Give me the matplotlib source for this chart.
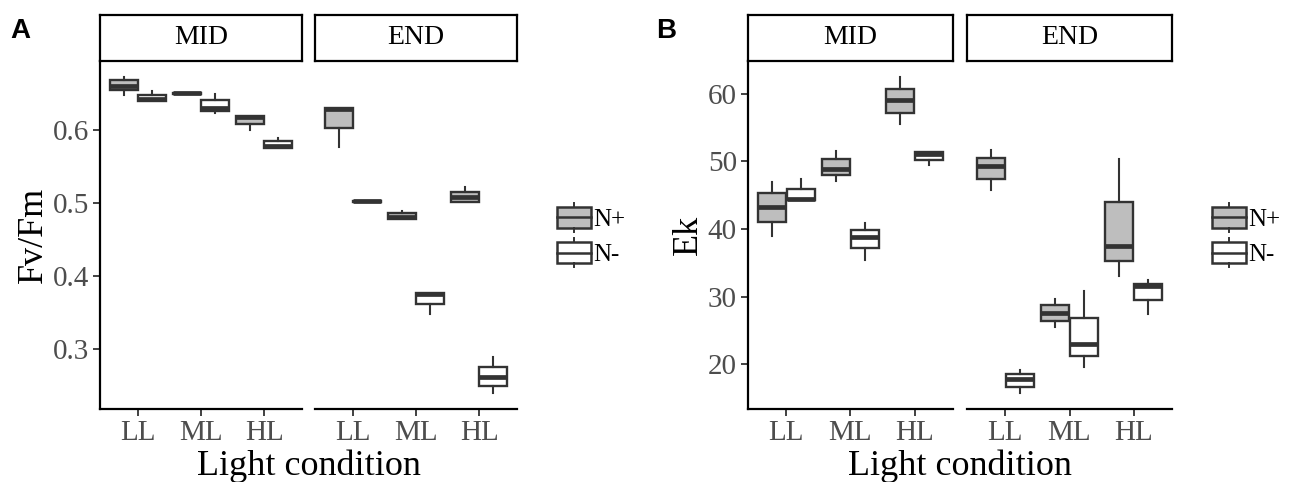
import matplotlib
matplotlib.use("Agg")
import matplotlib.pyplot as plt
from matplotlib.legend_handler import HandlerBase
from matplotlib.patches import Rectangle, Patch
from matplotlib.lines import Line2D

plt.rcParams['font.family'] = ['Liberation Serif', 'DejaVu Serif']

stages = ["MID", "END"]
light = ["LL", "ML", "HL"]
nitrogen = ["N+", "N-"]

# five-number summaries [whislo, q1, med, q3, whishi], order: LL N+, LL N-, ML N+, ML N-, HL N+, HL N-
fvfm_mid = [[0.648, 0.655, 0.6596, 0.6688, 0.6725],
            [0.639, 0.639, 0.6427, 0.647, 0.6536],
            [0.649, 0.649, 0.650, 0.651, 0.651],
            [0.6234, 0.6252, 0.630, 0.6413, 0.6495],
            [0.599, 0.6083, 0.618, 0.6193, 0.6193],
            [0.5748, 0.5748, 0.5784, 0.584, 0.5886]]
fvfm_end = [[0.577, 0.6023, 0.628, 0.6298, 0.6298],
            [0.501, 0.501, 0.502, 0.503, 0.503],
            [0.4776, 0.4776, 0.481, 0.4854, 0.4886],
            [0.3479, 0.3607, 0.3744, 0.3762, 0.3762],
            [0.5014, 0.5014, 0.5083, 0.5143, 0.522],
            [0.2392, 0.2496, 0.2607, 0.2748, 0.2889]]
ek_mid = [[38.95, 41.07, 43.3, 45.29, 47.0],
          [44.3, 44.3, 44.44, 45.88, 47.37],
          [47.1, 47.9, 48.9, 50.34, 51.47],
          [35.38, 37.12, 38.75, 39.84, 40.92],
          [55.44, 57.18, 59.05, 60.74, 62.47],
          [49.39, 50.24, 51.08, 51.32, 51.32]]
ek_end = [[45.78, 47.41, 49.24, 50.49, 51.62],
          [15.72, 16.7, 17.8, 18.54, 19.14],
          [25.47, 26.46, 27.6, 28.69, 29.7],
          [19.52, 21.16, 23.0, 26.86, 30.77],
          [33.05, 35.27, 37.5, 43.95, 50.34],
          [27.46, 29.44, 31.52, 31.92, 32.4]]

fvfm_ticks = [0.3, 0.4, 0.5, 0.6]
ek_ticks = [20, 30, 40, 50, 60]

fills = {"N+": "#BEBEBE", "N-": "white"}
edge = "#333333"
W, H = 1297, 482


class BoxHandler(HandlerBase):
    def create_artists(self, legend, orig, xd, yd, width, height, fontsize, trans):
        fc = orig.get_facecolor()
        x0, y0 = -xd, -yd
        wl = height * 0.14
        r = Rectangle((x0, y0 + wl), width, height - 2 * wl, facecolor=fc,
                      edgecolor=edge, lw=1.8, transform=trans)
        med = Line2D([x0, x0 + width], [y0 + height / 2] * 2, color=edge, lw=1.8, transform=trans)
        w1 = Line2D([x0 + width / 2] * 2, [y0, y0 + wl], color=edge, lw=1.4, transform=trans)
        w2 = Line2D([x0 + width / 2] * 2, [y0 + height - wl, y0 + height], color=edge, lw=1.4, transform=trans)
        return [r, med, w1, w2]


def px_axes(fig, x0, x1, y0, y1):
    return fig.add_axes([x0 / W, 1 - y1 / H, (x1 - x0) / W, (y1 - y0) / H])


def draw_panel(fig, xs, stage_data, ticks, fmt, ylabel, letter, lx):
    allv = [v for d in stage_data for b in d for v in b]
    lo, hi = min(allv), max(allv)
    pad = (hi - lo) * 0.05
    axes = []
    for i, (x0, x1) in enumerate(xs):
        ax = px_axes(fig, x0, x1, 61, 409)
        stats = []
        pos = []
        cols = []
        for j, b in enumerate(stage_data[i]):
            stats.append(dict(whislo=b[0], q1=b[1], med=b[2], q3=b[3], whishi=b[4], fliers=[]))
            pos.append(j // 2 + 1 + (-0.225 if j % 2 == 0 else 0.225))
            cols.append(fills[nitrogen[j % 2]])
        bp = ax.bxp(stats, positions=pos, widths=0.44, patch_artist=True, showcaps=False,
                    boxprops=dict(edgecolor=edge, lw=1.7),
                    medianprops=dict(color=edge, lw=3.4, solid_capstyle='butt'),
                    whiskerprops=dict(color=edge, lw=1.5))
        for p, c in zip(bp['boxes'], cols):
            p.set_facecolor(c)
        ax.set_xlim(0.4, 3.6)
        ax.set_ylim(lo - pad, hi + pad)
        ax.set_xticks([1, 2, 3])
        ax.set_xticklabels(light)
        for s in ['top', 'right']:
            ax.spines[s].set_visible(False)
        ax.spines['bottom'].set_linewidth(1.6)
        ax.spines['left'].set_linewidth(1.6)
        ax.tick_params(colors=edge, labelcolor="#4D4D4D", labelsize=21, length=5, width=1.3, pad=3)
        if i == 0:
            ax.set_yticks(ticks)
            ax.set_yticklabels([fmt.format(t) for t in ticks])
            ax.set_ylabel(ylabel, fontsize=26, labelpad=2)
        else:
            ax.spines['left'].set_visible(False)
            ax.tick_params(axis='y', left=False, labelleft=False)
        # strip
        st = px_axes(fig, x0, x1, 15, 61)
        st.set_xticks([])
        st.set_yticks([])
        for s in st.spines.values():
            s.set_linewidth(1.6)
        st.text(0.5, 0.5, stages[i], ha='center', va='center', fontsize=20, transform=st.transAxes)
        axes.append(ax)
    xc = (xs[0][0] + xs[1][1]) / 2
    fig.text(xc / W, 1 - 466 / H, "Light condition", ha='center', va='center', fontsize=26)
    fig.text(lx / W, 1 - 31 / H, letter, ha='left', va='center', fontsize=20,
             fontweight='bold', family='Liberation Sans')
    handles = [Patch(facecolor=fills[n], label=n) for n in nitrogen]
    axes[1].legend(handles=handles, loc='center left', bbox_to_anchor=(1.0 + 40 / (xs[1][1] - xs[1][0]), 0.5),
                   frameon=False, fontsize=18, handler_map={Patch: BoxHandler()},
                   handlelength=1.35, handleheight=1.4, handletextpad=0.08, labelspacing=0.25,
                   borderpad=0, borderaxespad=0)


fig = plt.figure(figsize=(W / 100, H / 100), dpi=100)
draw_panel(fig, [(100, 302), (315, 517)], [fvfm_mid, fvfm_end], fvfm_ticks, "{:.1f}", "Fv/Fm", "A", 10)
draw_panel(fig, [(748, 953), (967, 1172)], [ek_mid, ek_end], ek_ticks, "{:d}", "Ek", "B", 656)
fig.savefig("out.png", dpi=100)
